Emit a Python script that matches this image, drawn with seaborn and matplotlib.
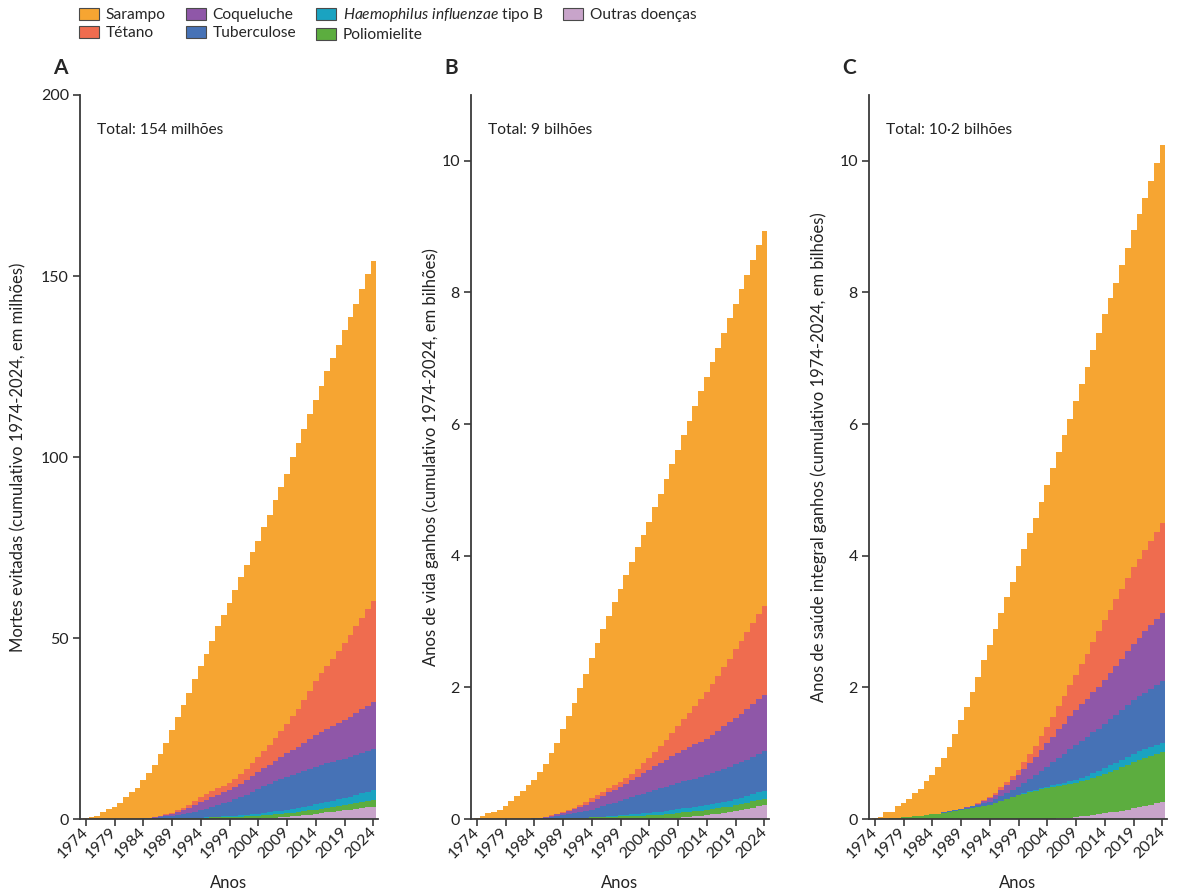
import numpy as np
import pandas as pd
import matplotlib
matplotlib.use("Agg")
import matplotlib.pyplot as plt
import seaborn as sns
from matplotlib.patches import Patch


# ======================================================
# DATA
# ======================================================

YEARS = list(range(1974, 2025))
TICK_YEARS = list(range(1974, 2025, 5))

DISEASES = ["Sarampo", "Tétano", "Coqueluche", "Tuberculose",
            "Hib", "Poliomielite", "Outras doenças"]
LEGEND_LABELS = ["Sarampo", "Tétano", "Coqueluche", "Tuberculose",
                 r"$\mathit{Haemophilus\ influenzae}$ tipo B",
                 "Poliomielite", "Outras doenças"]
COLORS = ["#F6A532", "#EF6C4F", "#8F57A8", "#4672B6",
          "#1AA3C1", "#5CAD3F", "#C8A4CA"]

PANEL_LETTERS = ["A", "B", "C"]
TOTAL_TEXT = ["Total: 154 milhões", "Total: 9 bilhões", "Total: 10·2 bilhões"]
YLABELS = [
    "Mortes evitadas (cumulativo 1974-2024, em milhões)",
    "Anos de vida ganhos (cumulativo 1974-2024, em bilhões)",
    "Anos de saúde integral ganhos (cumulativo 1974-2024, em bilhões)",
]
YTICKS = [[0, 50, 100, 150, 200], [0, 2, 4, 6, 8, 10], [0, 2, 4, 6, 8, 10]]
YMAX = [200, 11, 11]

# ---------- Panel A: deaths averted (millions) ----------
TOTAL_A = [0.2, 0.6, 0.9, 1.8, 2.7, 3.4, 4.5, 6.0, 7.4, 8.5,
           10.8, 12.6, 14.9, 17.9, 20.9, 24.6, 28.3, 31.5, 34.7, 38.6,
           42.3, 45.6, 49.3, 53.2, 56.4, 59.8, 63.3, 66.8, 70.1, 73.7,
           76.9, 80.8, 84.0, 88.1, 91.8, 95.3, 99.9, 103.8, 107.6, 111.8,
           115.7, 119.6, 123.7, 127.4, 131.0, 135.0, 138.7, 142.4, 146.5, 150.6,
           154.2]
TETANO_A = [0] * 13 + [0.05, 0.1, 0.2, 0.4, 0.6, 0.8, 1.1, 1.4, 1.5, 1.6,
                       1.7, 1.8, 1.9, 2.2, 2.6, 3.0, 3.5, 4.1, 4.8, 5.5,
                       6.3, 7.2, 8.2, 9.4, 10.6, 11.9, 13.4, 15.0, 16.2, 17.3,
                       18.5, 19.8, 21.2, 22.5, 23.9, 25.3, 26.7, 28.0]
COQUELUCHE_A = [0] * 10 + [0.05, 0.1, 0.2, 0.3, 0.4, 0.5, 0.8, 1.1, 1.5, 1.9,
                           2.3, 2.5, 2.7, 2.9, 3.1, 3.3, 3.5, 3.8, 4.1, 4.4,
                           4.7, 5.0, 5.3, 5.7, 6.0, 6.4, 6.8, 7.2, 7.7, 8.2,
                           8.7, 9.1, 9.5, 9.9, 10.3, 10.7, 11.1, 11.6, 12.0, 12.5,
                           12.9]
TB_A = [0] * 9 + [0.05, 0.15, 0.25, 0.4, 0.5, 0.65, 0.8, 1.0, 1.2, 1.4,
                  1.7, 2.0, 2.4, 2.8, 3.2, 3.6, 4.0, 4.5, 5.0, 5.6,
                  6.2, 6.8, 7.3, 7.8, 8.3, 8.8, 9.2, 9.4, 9.6, 9.9,
                  10.1, 10.3, 10.5, 10.6, 10.7, 10.8, 10.9, 11.0, 11.1, 11.2,
                  11.3, 11.4]
HIB_A = [0] * 21 + [0.05, 0.1, 0.15, 0.2, 0.25, 0.3, 0.35, 0.4, 0.5, 0.6,
                    0.65, 0.7, 0.75, 0.8, 0.9, 1.0, 1.1, 1.2, 1.35, 1.5,
                    1.6, 1.7, 1.75, 1.8, 1.9, 2.1, 2.3, 2.5, 2.65, 2.8]
POLIO_A = [0] * 13 + [0.05, 0.1, 0.1, 0.15, 0.2, 0.25, 0.3, 0.35, 0.4, 0.45,
                      0.5, 0.5, 0.55, 0.6, 0.65, 0.7, 0.75, 0.8, 0.85, 0.9,
                      0.95, 1.0, 1.0, 1.05, 1.1, 1.1, 1.15, 1.2, 1.25, 1.3,
                      1.35, 1.4, 1.45, 1.5, 1.55, 1.6, 1.7, 1.8]
OUTRAS_A = [0] * 30 + [0.1, 0.2, 0.3, 0.4, 0.5, 0.6, 0.7, 0.9, 1.0, 1.2,
                       1.4, 1.6, 1.8, 2.0, 2.2, 2.4, 2.6, 2.8, 3.0, 3.2,
                       3.4]

# ---------- Panel B: years of life gained (billions) ----------
TOTAL_B = [0.02, 0.04, 0.09, 0.10, 0.13, 0.19, 0.27, 0.35, 0.43, 0.51,
           0.59, 0.72, 0.83, 1.00, 1.16, 1.36, 1.56, 1.76, 1.99, 2.21,
           2.44, 2.68, 2.89, 3.09, 3.30, 3.50, 3.70, 3.91, 4.13, 4.32,
           4.52, 4.74, 4.94, 5.17, 5.40, 5.61, 5.84, 6.05, 6.27, 6.50,
           6.72, 6.95, 7.15, 7.39, 7.61, 7.83, 8.06, 8.27, 8.50, 8.72,
           8.94]
TETANO_B = [0] * 13 + [0.003, 0.006, 0.01, 0.015, 0.02, 0.03, 0.04, 0.05, 0.055, 0.06,
                       0.063, 0.067, 0.07, 0.085, 0.10, 0.12, 0.15, 0.18, 0.22, 0.26,
                       0.30, 0.35, 0.40, 0.46, 0.52, 0.58, 0.65, 0.71, 0.77, 0.83,
                       0.90, 0.97, 1.05, 1.11, 1.17, 1.23, 1.29, 1.35]
COQUELUCHE_B = [0] * 10 + [0.003, 0.007, 0.012, 0.018, 0.026, 0.035, 0.05, 0.065, 0.08, 0.10,
                           0.12, 0.14, 0.16, 0.18, 0.195, 0.21, 0.235, 0.26, 0.285, 0.31,
                           0.34, 0.36, 0.38, 0.40, 0.43, 0.46, 0.48, 0.50, 0.52, 0.54,
                           0.56, 0.59, 0.62, 0.65, 0.68, 0.71, 0.74, 0.77, 0.80, 0.83,
                           0.86]
TB_B = [0] * 9 + [0.003, 0.008, 0.015, 0.022, 0.03, 0.04, 0.05, 0.06, 0.072, 0.085,
                  0.10, 0.12, 0.14, 0.16, 0.18, 0.20, 0.22, 0.24, 0.26, 0.28,
                  0.30, 0.32, 0.34, 0.355, 0.37, 0.385, 0.40, 0.41, 0.42, 0.43,
                  0.44, 0.45, 0.465, 0.48, 0.495, 0.51, 0.525, 0.54, 0.555, 0.57,
                  0.585, 0.60]
HIB_B = [0] * 21 + [0.003, 0.006, 0.01, 0.013, 0.017, 0.02, 0.024, 0.028, 0.032, 0.036,
                    0.04, 0.044, 0.048, 0.052, 0.056, 0.06, 0.063, 0.066, 0.069, 0.072,
                    0.075, 0.08, 0.085, 0.09, 0.095, 0.10, 0.105, 0.11, 0.115, 0.12]
POLIO_B = [0] * 13 + [0.003, 0.005, 0.008, 0.01, 0.013, 0.016, 0.02, 0.023, 0.026, 0.03,
                      0.033, 0.036, 0.04, 0.043, 0.046, 0.05, 0.053, 0.056, 0.06, 0.062,
                      0.065, 0.068, 0.07, 0.072, 0.074, 0.076, 0.078, 0.08, 0.082, 0.084,
                      0.086, 0.088, 0.09, 0.092, 0.094, 0.096, 0.098, 0.10]
OUTRAS_B = [0] * 32 + [0.005, 0.01, 0.015, 0.02, 0.03, 0.035, 0.04, 0.05, 0.06,
                       0.07, 0.08, 0.09, 0.10, 0.12,
                       0.13, 0.15, 0.17, 0.19, 0.21]

# ---------- Panel C: healthy years gained (billions) ----------
TOTAL_C = [0.02, 0.035, 0.10, 0.11, 0.19, 0.24, 0.30, 0.39, 0.46, 0.58,
           0.67, 0.79, 0.92, 1.10, 1.29, 1.50, 1.70, 1.93, 2.16, 2.41,
           2.64, 2.89, 3.13, 3.38, 3.60, 3.85, 4.10, 4.34, 4.58, 4.81,
           5.07, 5.33, 5.57, 5.84, 6.08, 6.35, 6.61, 6.87, 7.12, 7.39,
           7.67, 7.91, 8.15, 8.42, 8.67, 8.95, 9.19, 9.43, 9.70, 9.96,
           10.24]
TETANO_C = [0] * 18 + [0.005, 0.01, 0.02, 0.03, 0.04, 0.05, 0.065, 0.08, 0.11, 0.14,
                       0.17, 0.21, 0.25, 0.30, 0.36, 0.42, 0.48, 0.54, 0.61, 0.68,
                       0.76, 0.84, 0.91, 0.96, 1.01, 1.06, 1.11, 1.16, 1.20, 1.24,
                       1.29, 1.33, 1.37]
COQUELUCHE_C = [0] * 16 + [0.005, 0.01, 0.02, 0.035, 0.05, 0.07, 0.09, 0.12, 0.15, 0.18,
                           0.21, 0.25, 0.28, 0.32, 0.36, 0.39, 0.43, 0.46, 0.50, 0.53,
                           0.555, 0.58, 0.61, 0.635, 0.66, 0.70, 0.74, 0.78, 0.82, 0.86,
                           0.89, 0.93, 0.96, 1.00, 1.04]
TB_C = [0] * 12 + [0.002, 0.004, 0.007, 0.01, 0.015, 0.02, 0.03, 0.04, 0.05, 0.06,
                   0.075, 0.09, 0.105, 0.12, 0.15, 0.18, 0.22, 0.26, 0.30, 0.35,
                   0.40, 0.44, 0.49, 0.53, 0.56, 0.59, 0.62, 0.645, 0.67, 0.70,
                   0.73, 0.755, 0.78, 0.81, 0.835, 0.86, 0.885, 0.91, 0.93]
HIB_C = [0] * 21 + [0.002, 0.004, 0.006, 0.008, 0.01, 0.012, 0.014, 0.016, 0.018, 0.02,
                    0.025, 0.03, 0.035, 0.04, 0.045, 0.05, 0.06, 0.07, 0.08, 0.09,
                    0.10, 0.105, 0.11, 0.12, 0.125, 0.13, 0.13, 0.135, 0.135, 0.14]
POLIO_C = [0] * 2 + [0.005, 0.01, 0.018, 0.025, 0.033, 0.041, 0.05, 0.06, 0.07, 0.083,
                     0.097, 0.11, 0.125, 0.14, 0.155, 0.17, 0.185, 0.20, 0.215, 0.24,
                     0.27, 0.30, 0.33, 0.36, 0.385, 0.41, 0.43, 0.45, 0.47, 0.48,
                     0.49, 0.50, 0.51, 0.52, 0.535, 0.55, 0.565, 0.58, 0.60, 0.62,
                     0.64, 0.66, 0.685, 0.71, 0.72, 0.73, 0.74, 0.75, 0.76]
OUTRAS_C = [0] * 31 + [0.005, 0.01, 0.015, 0.02, 0.03, 0.04, 0.05, 0.06, 0.07, 0.09,
                       0.10, 0.11, 0.125, 0.14, 0.16, 0.18, 0.20, 0.22, 0.24, 0.26]


# ======================================================
# HELPERS
# ======================================================

def build_long_frame(total, tetano, coqueluche, tb, hib, polio, outras):
    """Wide table per year -> long table; measles is the rest of the bar."""
    df = pd.DataFrame({
        "ano": YEARS,
        "Tétano": tetano,
        "Coqueluche": coqueluche,
        "Tuberculose": tb,
        "Hib": hib,
        "Poliomielite": polio,
        "Outras doenças": outras,
    })
    others = df[DISEASES[1:]].sum(axis=1)
    df["Sarampo"] = np.clip(np.array(total) - others, 0, None)
    return df.melt(id_vars="ano", var_name="doenca", value_name="valor")


PANELS = [
    build_long_frame(TOTAL_A, TETANO_A, COQUELUCHE_A, TB_A, HIB_A, POLIO_A, OUTRAS_A),
    build_long_frame(TOTAL_B, TETANO_B, COQUELUCHE_B, TB_B, HIB_B, POLIO_B, OUTRAS_B),
    build_long_frame(TOTAL_C, TETANO_C, COQUELUCHE_C, TB_C, HIB_C, POLIO_C, OUTRAS_C),
]


# ======================================================
# PLOT
# ======================================================

sns.set_style("ticks")
plt.rcParams["font.family"] = ["Lato", "DejaVu Sans"]
plt.rcParams["mathtext.fontset"] = "custom"
plt.rcParams["mathtext.it"] = "Lato:italic"
plt.rcParams["mathtext.rm"] = "Lato"

W, H = 1179, 896
fig = plt.figure(figsize=(W / 100, H / 100), dpi=100)

AX_LEFT_PX = [80, 471, 869]
AX_W_PX = 298
AX_BOTTOM_PX = 819
AX_TOP_PX = 95
YLABEL_X = [-0.180, -0.107, -0.141]
SPINE_COLOR = "#3a3a3a"

for i, long_df in enumerate(PANELS):
    ax = fig.add_axes([AX_LEFT_PX[i] / W, (H - AX_BOTTOM_PX) / H,
                       AX_W_PX / W, (AX_BOTTOM_PX - AX_TOP_PX) / H])

    sns.histplot(
        data=long_df, x="ano", weights="valor",
        hue="doenca", hue_order=DISEASES, palette=COLORS,
        multiple="stack", discrete=True, shrink=1,
        element="bars", linewidth=0, alpha=1,
        legend=False, ax=ax,
    )

    ax.set_xlim(1973.0, 2024.8)
    ax.set_ylim(0, YMAX[i])
    ax.set_yticks(YTICKS[i])
    ax.set_xticks(TICK_YEARS)
    ax.set_xticklabels([str(y) for y in TICK_YEARS], rotation=45,
                       ha="right", va="center", rotation_mode="anchor")

    sns.despine(ax=ax)
    for side in ["left", "bottom"]:
        ax.spines[side].set_color(SPINE_COLOR)
        ax.spines[side].set_linewidth(1.3)
    ax.tick_params(direction="out", length=5, width=1.2, color=SPINE_COLOR,
                   labelsize=11.5, labelcolor="#222222", pad=3)

    ax.set_xlabel("Anos", fontsize=12, color="#222222")
    ax.xaxis.set_label_coords(0.5, -0.078)
    ax.set_ylabel(YLABELS[i], fontsize=12, color="#222222")
    ax.yaxis.set_label_coords(YLABEL_X[i], 0.5)

    ax.text(0.057, 0.952, TOTAL_TEXT[i], transform=ax.transAxes,
            fontsize=11.2, color="#222222", ha="left", va="center")

    fig.text((AX_LEFT_PX[i] - 20) / W, 1 - 68 / H, PANEL_LETTERS[i],
             fontsize=15, fontweight="bold", ha="center", va="center")

handles = [Patch(facecolor=c, edgecolor="#4a4a4a", linewidth=0.8) for c in COLORS]
fig.legend(handles, LEGEND_LABELS, loc="upper left",
           bbox_to_anchor=(73 / W, 1.0), ncol=4, frameon=False,
           fontsize=11.2, handlelength=1.3, handleheight=0.8,
           handletextpad=0.4, columnspacing=1.3, labelspacing=0.25,
           borderaxespad=0.2, borderpad=0.2)

fig.savefig("out.png", dpi=100)
